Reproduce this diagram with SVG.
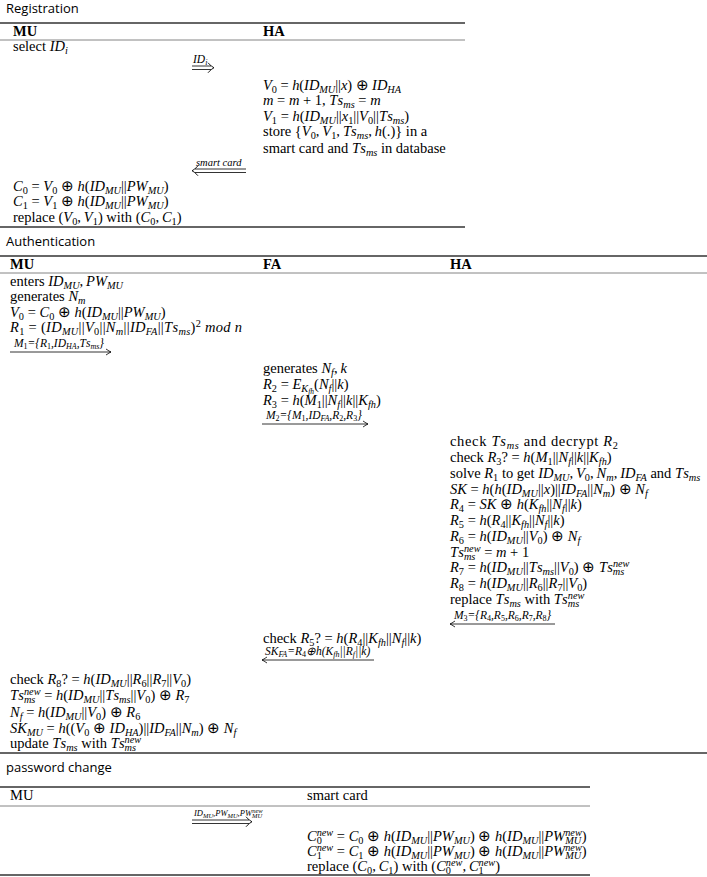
<svg xmlns="http://www.w3.org/2000/svg" width="707" height="877" viewBox="0 0 707 877">
<style>
text{font-family:"Liberation Serif","Times New Roman",serif;font-size:14.5px;fill:#000}
.sec{font-family:"Open Sans","Noto Sans","DejaVu Sans",sans-serif;font-size:13px}
.b{font-weight:bold}
.i{font-style:italic}
.n{font-style:normal}
.s{font-size:10.3px;baseline-shift:-3px}
.u{font-size:10.3px;baseline-shift:5px}
.ss{font-size:7.5px;baseline-shift:-5px}
.lb{font-size:11.5px;font-style:italic}
.lb .s{font-size:8px;baseline-shift:-2px}
.lb .u{font-size:7.5px;baseline-shift:3.5px}
.lb.sm{font-size:8.5px}
.lb.sm .s{font-size:6.5px}
.lb.sm .u{font-size:6.5px;baseline-shift:3.5px}
.lb.sc{font-size:10.5px}
.rule{stroke:#333;stroke-width:1.3}
.thin{stroke:#777;stroke-width:0.9}
.ar{fill:none;stroke:#000;stroke-width:0.8}
</style>
<defs>
<marker id="ah" markerUnits="userSpaceOnUse" markerWidth="8" markerHeight="8" refX="0" refY="0" orient="auto" overflow="visible">
<path d="M-5,-3 Q-1.5,-0.6 0,0 Q-1.5,0.6 -5,3" fill="none" stroke="#000" stroke-width="0.8"/>
</marker>
<path id="dh" d="M-6,-5 Q-2.5,-1 0,0 Q-2.5,1 -6,5" fill="none" stroke="#000" stroke-width="0.9"/>
</defs>

<g id="rules">
<line class="rule" x1="0" y1="23" x2="465" y2="23"/>
<line class="thin" x1="0" y1="40" x2="465" y2="40"/>
<line class="rule" x1="0" y1="227" x2="465" y2="227"/>
<line class="rule" x1="0" y1="256" x2="707" y2="256"/>
<line class="thin" x1="0" y1="273" x2="707" y2="273"/>
<line class="rule" x1="0" y1="753" x2="707" y2="753"/>
<line class="rule" x1="0" y1="787" x2="590" y2="787"/>
<line class="thin" x1="0" y1="806" x2="590" y2="806"/>
<line class="rule" x1="0" y1="875" x2="590" y2="875"/>
</g>

<g id="titles">
<text class="sec" x="6" y="13">Registration</text>
<text class="sec" x="6" y="246">Authentication</text>
<text class="sec" x="6" y="772">password change</text>
</g>

<g id="headers">
<text class="b" x="13" y="36">MU</text>
<text class="b" x="263" y="36">HA</text>
<text class="b" x="10" y="269">MU</text>
<text class="b" x="263" y="269">FA</text>
<text class="b" x="450" y="269">HA</text>
<text x="10" y="800">MU</text>
<text x="307" y="800">smart card</text>
</g>

<g id="reg-mu-select">
<text x="13" y="51">select <tspan class="i">ID</tspan><tspan class="s i">i</tspan></text>
</g>

<g id="reg-ha">
<text x="263" y="90" textLength="138" lengthAdjust="spacing"><tspan class="i">V</tspan><tspan class="s">0</tspan> = <tspan class="i">h</tspan>(<tspan class="i">ID</tspan><tspan class="s i">MU</tspan>||<tspan class="i">x</tspan>) ⊕ <tspan class="i">ID</tspan><tspan class="s i">HA</tspan></text>
<text x="263" y="105"><tspan class="i">m</tspan> = <tspan class="i">m</tspan> + 1, <tspan class="i">T</tspan><tspan class="i" dx="1.5">s</tspan><tspan class="s i">ms</tspan> = <tspan class="i">m</tspan></text>
<text x="263" y="121"><tspan class="i">V</tspan><tspan class="s">1</tspan> = <tspan class="i">h</tspan>(<tspan class="i">ID</tspan><tspan class="s i">MU</tspan>||<tspan class="i">x</tspan><tspan class="s">1</tspan>||<tspan class="i">V</tspan><tspan class="s">0</tspan>||<tspan class="i">T</tspan><tspan class="i" dx="1.5">s</tspan><tspan class="s i">ms</tspan>)</text>
<text x="263" y="136">store {<tspan class="i">V</tspan><tspan class="s">0</tspan>,&#8201;<tspan class="i">V</tspan><tspan class="s">1</tspan>,&#8201;<tspan class="i">T</tspan><tspan class="i" dx="1.5">s</tspan><tspan class="s i">ms</tspan>,&#8201;<tspan class="i">h</tspan>(.)} in a</text>
<text x="263" y="153">smart card and <tspan class="i">T</tspan><tspan class="i" dx="1.5">s</tspan><tspan class="s i">ms</tspan> in database</text>
</g>

<g id="reg-mu-store">
<text x="13" y="191"><tspan class="i">C</tspan><tspan class="s">0</tspan> = <tspan class="i">V</tspan><tspan class="s">0</tspan> ⊕ <tspan class="i">h</tspan>(<tspan class="i">ID</tspan><tspan class="s i">MU</tspan>||<tspan class="i">PW</tspan><tspan class="s i">MU</tspan>)</text>
<text x="13" y="206"><tspan class="i">C</tspan><tspan class="s">1</tspan> = <tspan class="i">V</tspan><tspan class="s">1</tspan> ⊕ <tspan class="i">h</tspan>(<tspan class="i">ID</tspan><tspan class="s i">MU</tspan>||<tspan class="i">PW</tspan><tspan class="s i">MU</tspan>)</text>
<text x="13" y="222">replace (<tspan class="i">V</tspan><tspan class="s">0</tspan>,&#8201;<tspan class="i">V</tspan><tspan class="s">1</tspan>) with (<tspan class="i">C</tspan><tspan class="s">0</tspan>,&#8201;<tspan class="i">C</tspan><tspan class="s">1</tspan>)</text>
</g>

<g id="auth-mu-1">
<text x="10" y="286">enters <tspan class="i">ID</tspan><tspan class="s i">MU</tspan>,&#8201;<tspan class="i">PW</tspan><tspan class="s i">MU</tspan></text>
<text x="10" y="301">generates <tspan class="i">N</tspan><tspan class="s i">m</tspan></text>
<text x="10" y="317"><tspan class="i">V</tspan><tspan class="s">0</tspan> = <tspan class="i">C</tspan><tspan class="s">0</tspan> ⊕ <tspan class="i">h</tspan>(<tspan class="i">ID</tspan><tspan class="s i">MU</tspan>||<tspan class="i">PW</tspan><tspan class="s i">MU</tspan>)</text>
<text x="10" y="332" textLength="232" lengthAdjust="spacing"><tspan class="i">R</tspan><tspan class="s">1</tspan> = (<tspan class="i">ID</tspan><tspan class="s i">MU</tspan>||<tspan class="i">V</tspan><tspan class="s">0</tspan>||<tspan class="i">N</tspan><tspan class="s i">m</tspan>||<tspan class="i">ID</tspan><tspan class="s i">FA</tspan>||<tspan class="i">T</tspan><tspan class="i" dx="1.5">s</tspan><tspan class="s i">ms</tspan>)<tspan class="u">2</tspan><tspan class="i"> mod n</tspan></text>
</g>

<g id="auth-fa-1">
<text x="263" y="373">generates <tspan class="i">N</tspan><tspan class="s i">f</tspan>,&#8201;<tspan class="i">k</tspan></text>
<text x="263" y="389"><tspan class="i">R</tspan><tspan class="s">2</tspan> = <tspan class="i">E</tspan><tspan class="s i">K</tspan><tspan class="ss i">fh</tspan>(<tspan class="i">N</tspan><tspan class="s i">f</tspan>||<tspan class="i">k</tspan>)</text>
<text x="263" y="405"><tspan class="i">R</tspan><tspan class="s">3</tspan> = <tspan class="i">h</tspan>(<tspan class="i">M</tspan><tspan class="s">1</tspan>||<tspan class="i">N</tspan><tspan class="s i">f</tspan>||<tspan class="i">k</tspan>||<tspan class="i">K</tspan><tspan class="s i">fh</tspan>)</text>
</g>

<g id="auth-ha">
<text x="450" y="446" textLength="168" lengthAdjust="spacing">check <tspan class="i">T</tspan><tspan class="i" dx="1.5">s</tspan><tspan class="s i">ms</tspan> and decrypt <tspan class="i">R</tspan><tspan class="s">2</tspan></text>
<text x="450" y="462">check <tspan class="i">R</tspan><tspan class="s">3</tspan>? = <tspan class="i">h</tspan>(<tspan class="i">M</tspan><tspan class="s">1</tspan>||<tspan class="i">N</tspan><tspan class="s i">f</tspan>||<tspan class="i">k</tspan>||<tspan class="i">K</tspan><tspan class="s i">fh</tspan>)</text>
<text x="450" y="478">solve <tspan class="i">R</tspan><tspan class="s">1</tspan> to get <tspan class="i">ID</tspan><tspan class="s i">MU</tspan>,&#8201;<tspan class="i">V</tspan><tspan class="s">0</tspan>,&#8201;<tspan class="i">N</tspan><tspan class="s i">m</tspan>,&#8201;<tspan class="i">ID</tspan><tspan class="s i">FA</tspan> and <tspan class="i">T</tspan><tspan class="i" dx="1.5">s</tspan><tspan class="s i">ms</tspan></text>
<text x="450" y="493.5"><tspan class="i">SK</tspan> = <tspan class="i">h</tspan>(<tspan class="i">h</tspan>(<tspan class="i">ID</tspan><tspan class="s i">MU</tspan>||<tspan class="i">x</tspan>)||<tspan class="i">ID</tspan><tspan class="s i">FA</tspan>||<tspan class="i">N</tspan><tspan class="s i">m</tspan>) ⊕ <tspan class="i">N</tspan><tspan class="s i">f</tspan></text>
<text x="450" y="509"><tspan class="i">R</tspan><tspan class="s">4</tspan> = <tspan class="i">SK</tspan> ⊕ <tspan class="i">h</tspan>(<tspan class="i">K</tspan><tspan class="s i">fh</tspan>||<tspan class="i">N</tspan><tspan class="s i">f</tspan>||<tspan class="i">k</tspan>)</text>
<text x="450" y="525"><tspan class="i">R</tspan><tspan class="s">5</tspan> = <tspan class="i">h</tspan>(<tspan class="i">R</tspan><tspan class="s">4</tspan>||<tspan class="i">K</tspan><tspan class="s i">fh</tspan>||<tspan class="i">N</tspan><tspan class="s i">f</tspan>||<tspan class="i">k</tspan>)</text>
<text x="450" y="541"><tspan class="i">R</tspan><tspan class="s">6</tspan> = <tspan class="i">h</tspan>(<tspan class="i">ID</tspan><tspan class="s i">MU</tspan>||<tspan class="i">V</tspan><tspan class="s">0</tspan>) ⊕ <tspan class="i">N</tspan><tspan class="s i">f</tspan></text>
<text x="450" y="557"><tspan class="i">T</tspan><tspan class="i" dx="1.5">s</tspan><tspan class="s i">ms</tspan><tspan class="u i" dx="-11.4">new</tspan> = <tspan class="i">m</tspan> + 1</text>
<text x="450" y="572"><tspan class="i">R</tspan><tspan class="s">7</tspan> = <tspan class="i">h</tspan>(<tspan class="i">ID</tspan><tspan class="s i">MU</tspan>||<tspan class="i">T</tspan><tspan class="i" dx="1.5">s</tspan><tspan class="s i">ms</tspan>||<tspan class="i">V</tspan><tspan class="s">0</tspan>) ⊕ <tspan class="i">T</tspan><tspan class="i" dx="1.5">s</tspan><tspan class="s i">ms</tspan><tspan class="u i" dx="-11.4">new</tspan></text>
<text x="450" y="588"><tspan class="i">R</tspan><tspan class="s">8</tspan> = <tspan class="i">h</tspan>(<tspan class="i">ID</tspan><tspan class="s i">MU</tspan>||<tspan class="i">R</tspan><tspan class="s">6</tspan>||<tspan class="i">R</tspan><tspan class="s">7</tspan>||<tspan class="i">V</tspan><tspan class="s">0</tspan>)</text>
<text x="450" y="604">replace <tspan class="i">T</tspan><tspan class="i" dx="1.5">s</tspan><tspan class="s i">ms</tspan> with <tspan class="i">T</tspan><tspan class="i" dx="1.5">s</tspan><tspan class="s i">ms</tspan><tspan class="u i" dx="-11.4">new</tspan></text>
</g>

<g id="auth-fa-2">
<text x="263" y="643">check <tspan class="i">R</tspan><tspan class="s">5</tspan>? = <tspan class="i">h</tspan>(<tspan class="i">R</tspan><tspan class="s">4</tspan>||<tspan class="i">K</tspan><tspan class="s i">fh</tspan>||<tspan class="i">N</tspan><tspan class="s i">f</tspan>||<tspan class="i">k</tspan>)</text>
</g>

<g id="auth-mu-2">
<text x="10" y="684">check <tspan class="i">R</tspan><tspan class="s">8</tspan>? = <tspan class="i">h</tspan>(<tspan class="i">ID</tspan><tspan class="s i">MU</tspan>||<tspan class="i">R</tspan><tspan class="s">6</tspan>||<tspan class="i">R</tspan><tspan class="s">7</tspan>||<tspan class="i">V</tspan><tspan class="s">0</tspan>)</text>
<text x="10" y="700"><tspan class="i">T</tspan><tspan class="i" dx="1.5">s</tspan><tspan class="s i">ms</tspan><tspan class="u i" dx="-11.4">new</tspan> = <tspan class="i">h</tspan>(<tspan class="i">ID</tspan><tspan class="s i">MU</tspan>||<tspan class="i">T</tspan><tspan class="i" dx="1.5">s</tspan><tspan class="s i">ms</tspan>||<tspan class="i">V</tspan><tspan class="s">0</tspan>) ⊕ <tspan class="i">R</tspan><tspan class="s">7</tspan></text>
<text x="10" y="716.5"><tspan class="i">N</tspan><tspan class="s i">f</tspan> = <tspan class="i">h</tspan>(<tspan class="i">ID</tspan><tspan class="s i">MU</tspan>||<tspan class="i">V</tspan><tspan class="s">0</tspan>) ⊕ <tspan class="i">R</tspan><tspan class="s">6</tspan></text>
<text x="10" y="732.5"><tspan class="i">SK</tspan><tspan class="s i">MU</tspan> = <tspan class="i">h</tspan>((<tspan class="i">V</tspan><tspan class="s">0</tspan> ⊕ <tspan class="i">ID</tspan><tspan class="s i">HA</tspan>)||<tspan class="i">ID</tspan><tspan class="s i">FA</tspan>||<tspan class="i">N</tspan><tspan class="s i">m</tspan>) ⊕ <tspan class="i">N</tspan><tspan class="s i">f</tspan></text>
<text x="10" y="747.5">update <tspan class="i">T</tspan><tspan class="i" dx="1.5">s</tspan><tspan class="s i">ms</tspan> with <tspan class="i">T</tspan><tspan class="i" dx="1.5">s</tspan><tspan class="s i">ms</tspan><tspan class="u i" dx="-11.4">new</tspan></text>
</g>

<g id="pw-smartcard">
<text x="307" y="841"><tspan class="i">C</tspan><tspan class="s">0</tspan><tspan class="u i" dx="-5.2">new</tspan> = <tspan class="i">C</tspan><tspan class="s">0</tspan> ⊕ <tspan class="i">h</tspan>(<tspan class="i">ID</tspan><tspan class="s i">MU</tspan>||<tspan class="i">PW</tspan><tspan class="s i">MU</tspan>) ⊕ <tspan class="i">h</tspan>(<tspan class="i">ID</tspan><tspan class="s i">MU</tspan>||<tspan class="i">PW</tspan><tspan class="s i">MU</tspan><tspan class="u i" dx="-16">new</tspan>)</text>
<text x="307" y="856"><tspan class="i">C</tspan><tspan class="s">1</tspan><tspan class="u i" dx="-5.2">new</tspan> = <tspan class="i">C</tspan><tspan class="s">1</tspan> ⊕ <tspan class="i">h</tspan>(<tspan class="i">ID</tspan><tspan class="s i">MU</tspan>||<tspan class="i">PW</tspan><tspan class="s i">MU</tspan>) ⊕ <tspan class="i">h</tspan>(<tspan class="i">ID</tspan><tspan class="s i">MU</tspan>||<tspan class="i">PW</tspan><tspan class="s i">MU</tspan><tspan class="u i" dx="-16">new</tspan>)</text>
<text x="307" y="871">replace (<tspan class="i">C</tspan><tspan class="s">0</tspan>,&#8201;<tspan class="i">C</tspan><tspan class="s">1</tspan>) with (<tspan class="i">C</tspan><tspan class="s">0</tspan><tspan class="u i" dx="-5.2">new</tspan>,&#8201;<tspan class="i">C</tspan><tspan class="s">1</tspan><tspan class="u i" dx="-5.2">new</tspan>)</text>
</g>

<g id="connectors">
<g class="ar">
<line x1="192" y1="66" x2="211" y2="66"/>
<line x1="192" y1="69.5" x2="211" y2="69.5"/>
<use href="#dh" x="214" y="67.75"/>
<line x1="195" y1="169" x2="246" y2="169"/>
<line x1="195" y1="172.5" x2="246" y2="172.5"/>
<use href="#dh" transform="translate(192,170.75) scale(-1,1)"/>
<line x1="192" y1="820" x2="249" y2="820"/>
<line x1="192" y1="823.5" x2="249" y2="823.5"/>
<use href="#dh" x="252" y="821.75"/>
<line x1="10" y1="352" x2="111" y2="352" marker-end="url(#ah)"/>
<line x1="262" y1="424" x2="368" y2="424" marker-end="url(#ah)"/>
<line x1="555" y1="624" x2="450" y2="624" marker-end="url(#ah)"/>
<line x1="374" y1="660" x2="262" y2="660" marker-end="url(#ah)"/>
</g>
<text class="lb" x="193" y="63">ID<tspan class="s">i</tspan></text>
<text class="lb sc" x="196" y="166">smart card</text>
<text class="lb" x="14" y="347">M<tspan class="s n">1</tspan>={R<tspan class="s n">1</tspan>,ID<tspan class="s">HA</tspan>,T<tspan dx="1">s</tspan><tspan class="s">ms</tspan>}</text>
<text class="lb" x="266" y="419">M<tspan class="s n">2</tspan>={M<tspan class="s n">1</tspan>,ID<tspan class="s">FA</tspan>,R<tspan class="s n">2</tspan>,R<tspan class="s n">3</tspan>}</text>
<text class="lb" x="454" y="619">M<tspan class="s n">3</tspan>={R<tspan class="s n">4</tspan>,R<tspan class="s n">5</tspan>,R<tspan class="s n">6</tspan>,R<tspan class="s n">7</tspan>,R<tspan class="s n">8</tspan>}</text>
<text class="lb" x="265" y="655">SK<tspan class="s">FA</tspan>=R<tspan class="s n">4</tspan>⊕h(K<tspan class="s">fh</tspan>||R<tspan class="s">f</tspan>||k)</text>
<text class="lb sm" x="194" y="816">ID<tspan class="s">MU</tspan>,PW<tspan class="s">MU</tspan>,PW<tspan class="s">MU</tspan><tspan class="u" dx="-10">new</tspan></text>
</g>
</svg>
